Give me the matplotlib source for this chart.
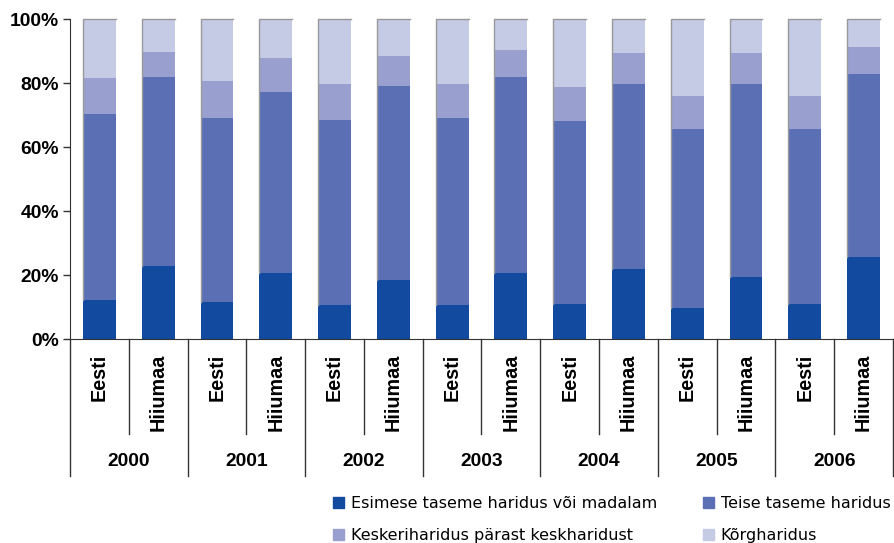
import matplotlib
matplotlib.use("Agg")
import matplotlib.pyplot as plt
import matplotlib.patches as mpatches
import numpy as np

years = ["2000", "2001", "2002", "2003", "2004", "2005", "2006"]
regions = ["Eesti", "Hiiumaa"]

# shares in %, order: Eesti 2000, Hiiumaa 2000, Eesti 2001, ...
esimese = [12.2, 22.9, 11.6, 20.6, 10.6, 18.4, 10.6, 20.6, 10.9, 21.9, 9.7, 19.4, 10.9, 25.6]
teise = [58.1, 59.0, 57.5, 56.6, 57.8, 60.7, 58.5, 61.3, 57.2, 57.8, 55.9, 60.3, 54.7, 57.2]
kesk = [11.3, 7.8, 11.5, 10.6, 11.3, 9.3, 10.6, 8.4, 10.7, 9.7, 10.3, 9.7, 10.3, 8.4]
korg = [18.4, 10.3, 19.4, 12.2, 20.3, 11.6, 20.3, 9.7, 21.2, 10.6, 24.1, 10.6, 24.1, 8.8]

series_names = ["Esimese taseme haridus või madalam", "Teise taseme haridus",
                "Keskeriharidus pärast keskharidust", "Kõrgharidus"]
colors = ["#114A9E", "#5B6FB5", "#99A0CF", "#C5CAE5"]

fig = plt.figure(figsize=(8.95, 5.43), dpi=100)
ax = fig.add_axes([70 / 895, 1 - 339 / 543, 823 / 895, 320 / 543])

x = np.arange(len(esimese))
w = 0.56
bottom = np.zeros(len(x))
for vals, c in zip([esimese, teise, kesk, korg], colors):
    ax.bar(x, vals, w, bottom=bottom, color=c, linewidth=0)
    bottom += np.array(vals)

# thin grey shadow edge on left and top of the upper segments
for xi, b, top in zip(x, esimese, bottom):
    ax.plot([xi - w / 2, xi - w / 2, xi + w / 2], [b, top, top],
            color="#999999", lw=1, clip_on=False, zorder=3)

ax.set_xlim(-0.5, len(x) - 0.5)
ax.set_ylim(0, 100)
ax.set_yticks(range(0, 101, 20))
ax.set_yticklabels([f"{v}%" for v in range(0, 101, 20)],
                   fontfamily="Liberation Sans", fontweight="bold", fontsize=13.9)
ax.tick_params(axis="y", length=5, width=1, color="#333333", pad=3)
ax.set_xticks([])
for s in ["top", "right"]:
    ax.spines[s].set_visible(False)
ax.spines["left"].set_color("#333333")
ax.spines["bottom"].set_color("#333333")

# two-level category axis
trans = ax.get_xaxis_transform()
for k in range(len(x) + 1):
    y_end = -0.428 if k % 2 == 0 else -0.297
    ax.plot([k - 0.5, k - 0.5], [0, y_end], color="#333333", lw=1,
            transform=trans, clip_on=False)

for i in x:
    ax.text(i, -0.047, regions[i % 2], rotation=90, ha="center", va="top",
            transform=trans, fontfamily="Liberation Sans", fontweight="bold",
            fontsize=14.2)
for j, yr in enumerate(years):
    ax.text(2 * j + 0.5, -0.384, yr, ha="center", va="center", transform=trans,
            fontfamily="Liberation Sans", fontweight="bold", fontsize=13.9)

handles = [mpatches.Patch(color=c) for c in colors]
order = [0, 2, 1, 3]
fig.legend([handles[i] for i in order], [series_names[i] for i in order],
           ncol=2, loc="upper left", bbox_to_anchor=(333 / 895, 1 - 496 / 543),
           frameon=False, fontsize=11.5, handlelength=0.7, handleheight=0.7,
           handletextpad=0.4, columnspacing=2.9, labelspacing=1.05,
           borderaxespad=0, borderpad=0)

fig.savefig("out.png", dpi=100)
